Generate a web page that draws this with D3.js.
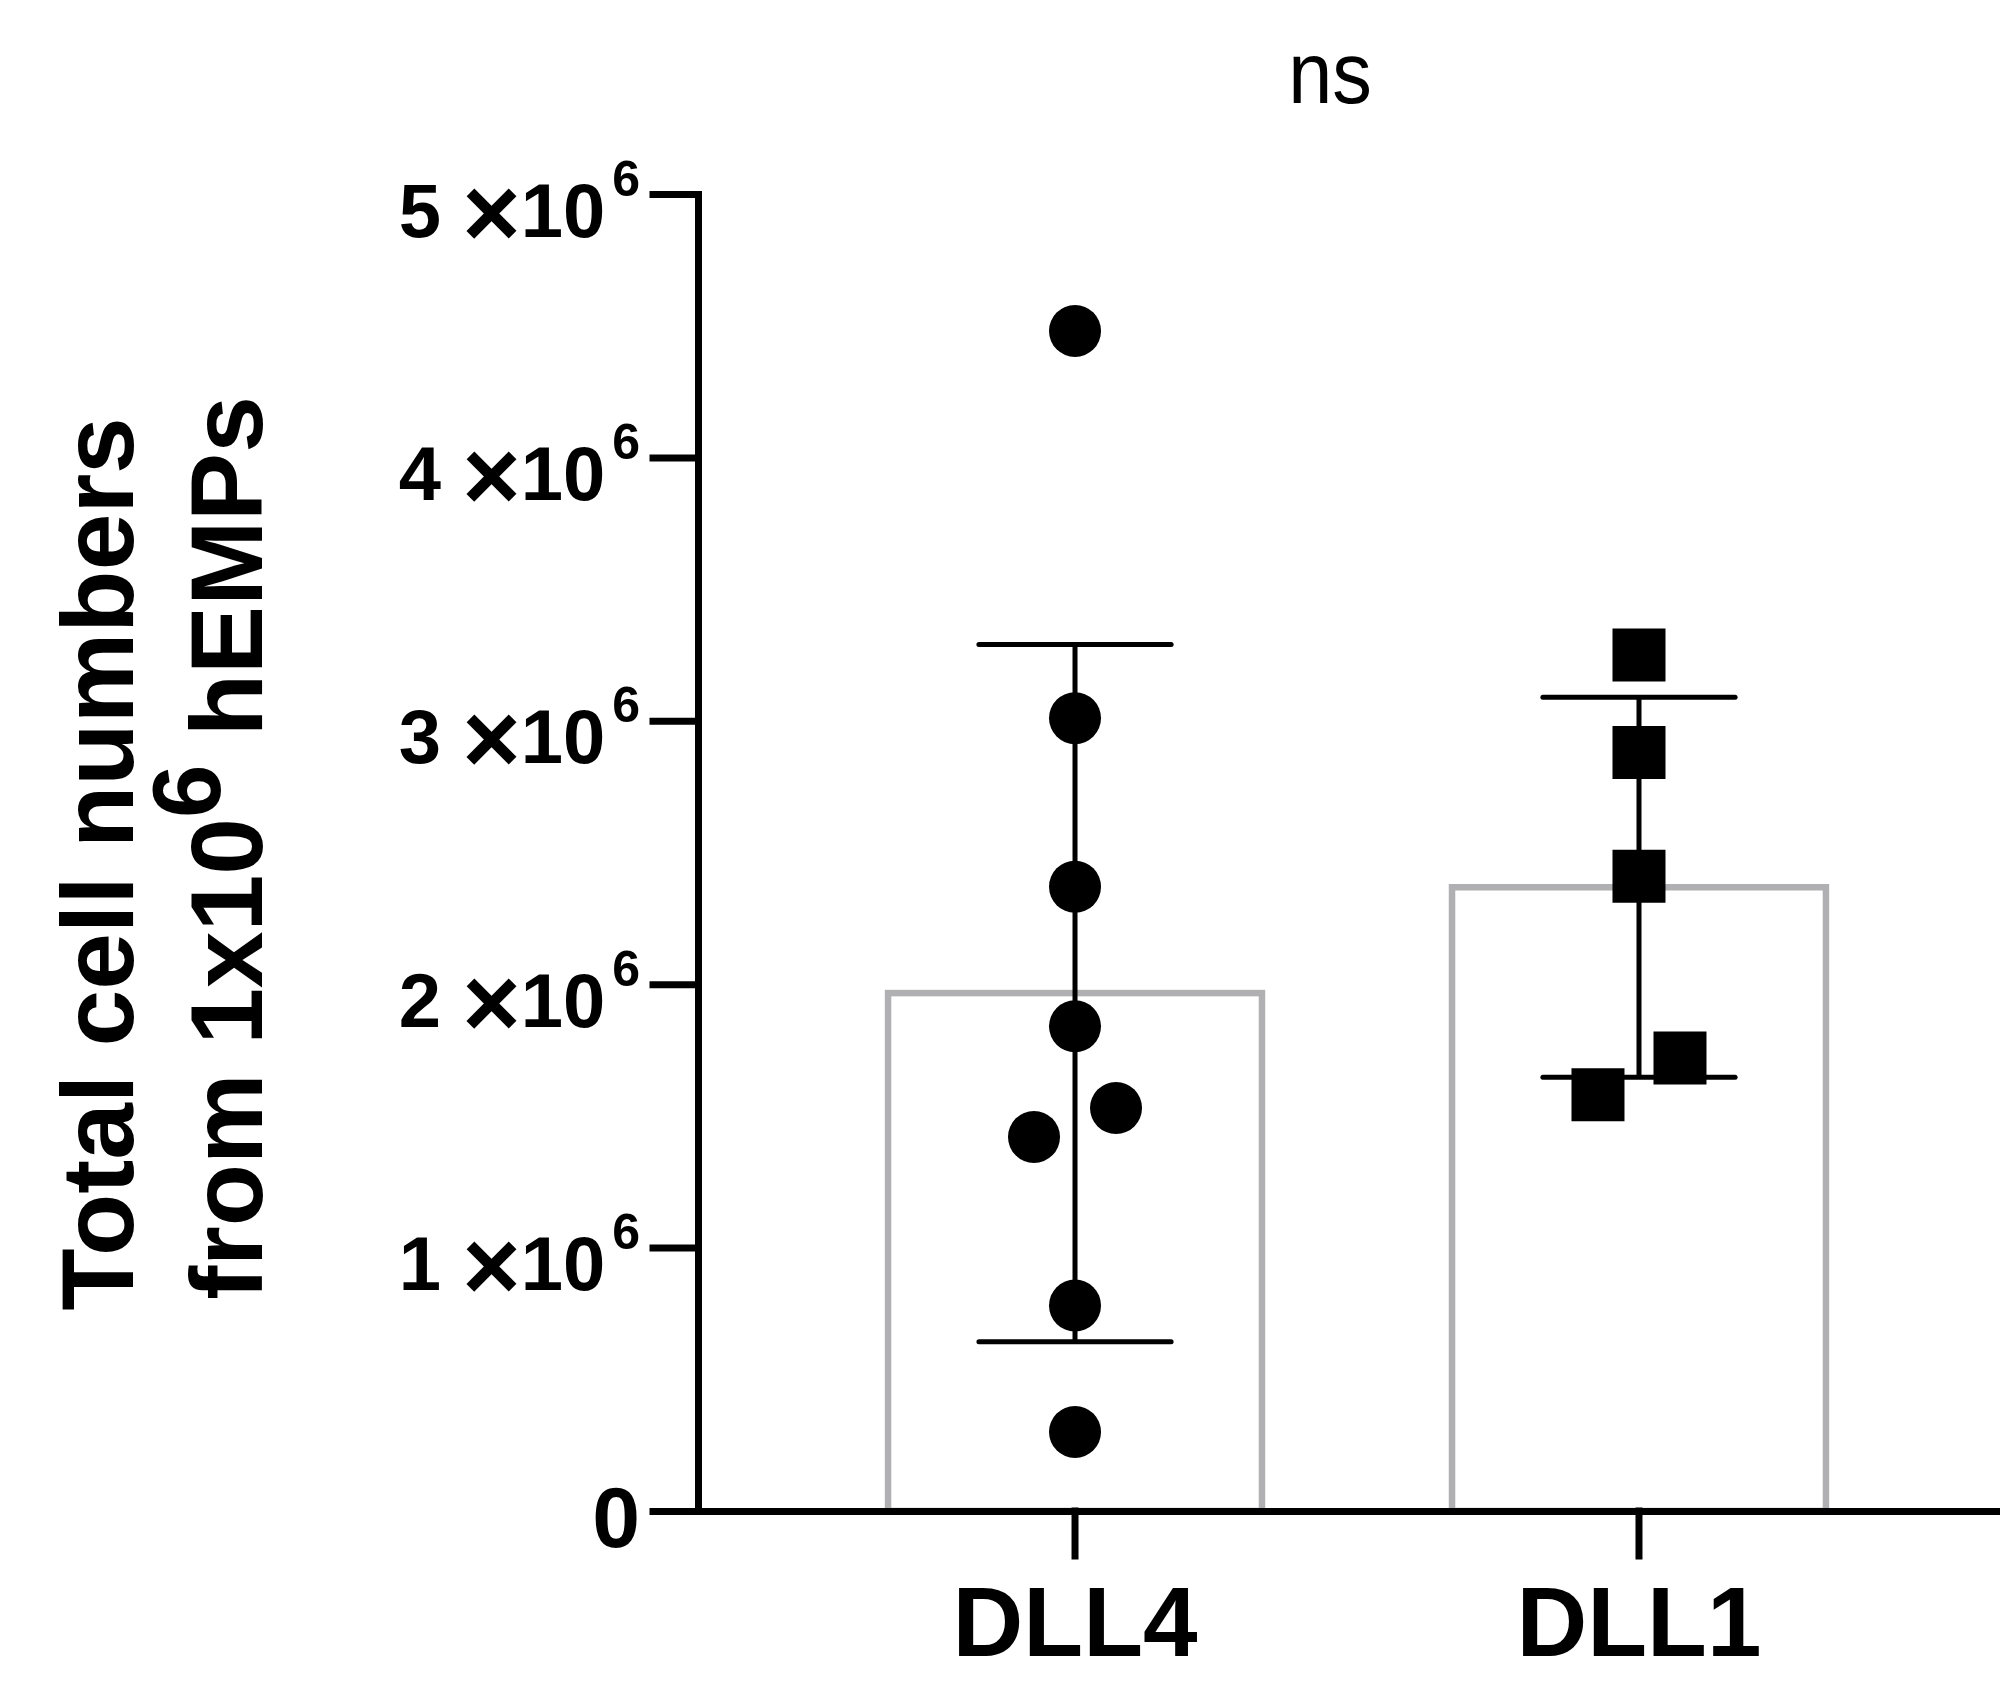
<!DOCTYPE html>
<html>
<head>
<meta charset="utf-8">
<script src="https://cdn.jsdelivr.net/npm/d3@7"></script>
<style>
  body { margin: 0; background: #fff; }
  text { font-family: "Liberation Sans", Arial, sans-serif; }
</style>
</head>
<body>
<div id="chart"></div>
<script>
// values (cells per well)
var groups = ["DLL4", "DLL1"]
var dll4Values = [4.48e6, 3.01e6, 2.37e6, 1.84e6, 1.53e6, 1.42e6, 0.78e6, 0.30e6]
var dll4Slots  = [0, 0, 0, 0, 1, -1, 0, 0]   // side-by-side placement of overlapping points
var dll1Values = [3.25e6, 2.88e6, 2.41e6, 1.72e6, 1.58e6]
var dll1Slots  = [0, 0, 0, 1, -1]
var yTicks = [0, 1e6, 2e6, 3e6, 4e6, 5e6]
var yTitle1 = "Total cell numbers"
var yTitle2 = ["from 1x10", "6", " hEMPs"]
var sigLabel = "ns"

var width = 2000, height = 1702
var plotLeft = 698, plotTop = 194, plotBottom = 1511

var svg = d3.select("#chart").append("svg")
            .attr("width", width)
            .attr("height", height)

var x = d3.scaleBand().domain(groups).range([plotLeft, plotLeft + 1318]).padding(0.337)
var y = d3.scaleLinear().domain([0, 5e6]).range([plotBottom, plotTop])

var series = [
  {name: "DLL4", values: dll4Values, slots: dll4Slots, shape: "circle"},
  {name: "DLL1", values: dll1Values, slots: dll1Slots, shape: "square"}
]
series.forEach(s => {
  s.mean = d3.mean(s.values)
  s.sd = d3.deviation(s.values)
})

// bars (open, gray outline)
svg.append("g").selectAll("rect")
   .data(series)
   .join("rect")
   .attr("x", d => x(d.name))
   .attr("width", x.bandwidth())
   .attr("y", d => y(d.mean))
   .attr("height", d => y(0) - y(d.mean))
   .attr("fill", "none")
   .attr("stroke", "#b0b0b3")
   .attr("stroke-width", 6.5)

// error bars, mean +/- SD
var capHalf = x.bandwidth() * 0.257
var eb = svg.append("g").attr("stroke", "#000").attr("stroke-width", 5)
series.forEach(s => {
  var cx = x(s.name) + x.bandwidth() / 2
  eb.append("line").attr("x1", cx).attr("x2", cx)
    .attr("y1", y(s.mean + s.sd)).attr("y2", y(s.mean - s.sd))
  ;[s.mean + s.sd, s.mean - s.sd].forEach(v => {
    eb.append("line").attr("x1", cx - capHalf).attr("x2", cx + capHalf)
      .attr("y1", y(v)).attr("y2", y(v)).attr("stroke-linecap", "round")
  })
})

// points
var spread = 41
series.forEach(s => {
  var cx = x(s.name) + x.bandwidth() / 2
  var pts = s.values.map((v, i) => ({v: v, slot: s.slots[i]}))
  var sym = d3.symbol().type(s.shape == "circle" ? d3.symbolCircle : d3.symbolSquare)
              .size(s.shape == "circle" ? Math.PI * 26 * 26 : 53 * 53)
  svg.append("g").selectAll("path")
     .data(pts)
     .join("path")
     .attr("d", sym)
     .attr("transform", d => "translate(" + (cx + d.slot * spread) + "," + y(d.v) + ")")
     .attr("fill", "#000")
})

// y axis
var yAxis = svg.append("g")
   .attr("transform", "translate(" + plotLeft + ",0)")
   .call(d3.axisLeft(y).tickValues(yTicks).tickSize(45).tickSizeOuter(0).tickPadding(13))
yAxis.selectAll("line, path").attr("stroke", "#000").attr("stroke-width", 7).attr("stroke-linecap", "square")
yAxis.selectAll(".tick text").each(function(d) {
  var t = d3.select(this).text(null).attr("dy", null)
            .attr("font-weight", "bold").attr("fill", "#000")
  if (d == 0) {
    t.attr("y", 35).attr("font-size", 86).text("0")
    return
  }
  t.attr("y", 42).attr("font-size", 76)
  t.append("tspan").text((d / 1e6) + " ")
  t.append("tspan").attr("font-size", 100).attr("dy", 10).text("\u00d7")
  t.append("tspan").attr("dy", -10).text("10")
  t.append("tspan").attr("font-size", 50).attr("dx", 7).attr("dy", -41).text("6")
})

// x axis
var xAxis = svg.append("g")
   .attr("transform", "translate(0," + plotBottom + ")")
   .call(d3.axisBottom(x).tickSize(45).tickSizeOuter(0).tickPadding(27))
xAxis.selectAll("line, path").attr("stroke", "#000").attr("stroke-width", 7).attr("stroke-linecap", "square")
xAxis.selectAll(".tick text")
   .attr("dy", null).attr("y", 145)
   .attr("font-size", 98).attr("font-weight", "bold").attr("fill", "#000")

// y title
svg.append("text")
   .attr("transform", "translate(133,864) rotate(-90)")
   .attr("text-anchor", "middle").attr("font-size", 102).attr("font-weight", "bold")
   .text(yTitle1)
var t2 = svg.append("text")
   .attr("transform", "translate(262,848) rotate(-90)")
   .attr("text-anchor", "middle").attr("font-size", 102).attr("font-weight", "bold")
t2.append("tspan").text(yTitle2[0])
t2.append("tspan").attr("font-size", 96).attr("dy", -42).text(yTitle2[1])
t2.append("tspan").attr("dy", 42).text(yTitle2[2])

// significance label
svg.append("text")
   .attr("transform", "translate(1330,103) scale(0.9,1)")
   .attr("text-anchor", "middle").attr("font-size", 88)
   .text(sigLabel)
</script>
</body>
</html>
